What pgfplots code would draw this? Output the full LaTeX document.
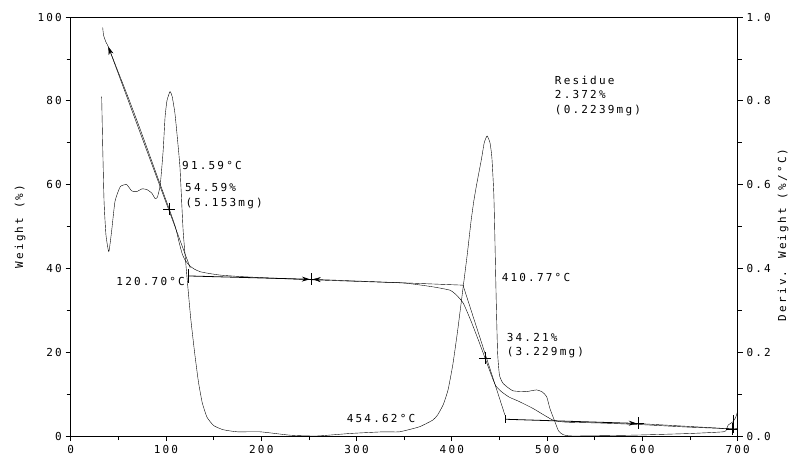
\documentclass[border=0pt]{standalone}
\usepackage{fontspec}
\setmainfont{DejaVu Sans Mono}[LetterSpace=20]
\usepackage{pgfplots}
\pgfplotsset{compat=1.18}
\usetikzlibrary{arrows.meta}
\begin{document}
\fontsize{11pt}{13pt}\selectfont
\begin{tikzpicture}
\useasboundingbox (-70.7pt,-22pt) rectangle (720.3pt,436pt);
\tikzset{
  lbl/.style={inner sep=0pt, anchor=west},
  arr/.style={-{Stealth[length=8pt,width=5pt]}},
  rarr/.style={{Stealth[length=8pt,width=5pt]}-},
}
\pgfplotsset{
  common/.style={scale only axis, width=667pt, height=419pt,
    xmin=0, xmax=700, tick align=outside,
    major tick length=5pt, minor tick length=4pt,
    cycle list={{black,solid,mark=none,line width=0.8pt}},
    axis line style={line width=0.9pt},
    every tick/.style={line width=0.7pt, black},
    /pgf/number format/assume math mode=true},
}
\begin{axis}[common,
  ymin=0, ymax=100,
  xtick={0,100,...,700}, minor x tick num=1,
  ytick={0,20,...,100}, minor y tick num=1,
  xtick pos=bottom, ytick pos=left,
  ylabel={Weight (\%)},
  ylabel style={at={(axis description cs:-0.076,0.5)}, anchor=center},
]
% weight curve
\addplot+[smooth, tension=0.3] coordinates {
(33.6,97.5)(34.5,95.6)(37,94.0)(39.5,92.9)(50,86.8)(60,81.0)(70,75.0)(80,68.8)
(90,62.5)(100,56.3)(104,53.8)(110,49.8)(114,46.0)(117,43.5)(120,42.0)(125,40.6)
(130,39.8)(136,39.2)(145,38.8)(157,38.4)(175,38.1)(200,37.8)(250,37.3)(300,36.9)
(350,36.5)(380,35.6)(398,34.8)(405,33.6)(412,31.7)(420,27.5)(428,22.8)(435,18.5)
(441,14.8)(446,12.0)(452,10.6)(460,9.3)(470,8.3)(485,6.6)(506,3.8)(520,3.3)
(555,3.1)(600,2.7)(650,2.1)(685,1.8)(695,1.7)(700,1.8)};
% construction lines
\addplot+[rarr] coordinates {(39.5,92.9)(125.5,40.1)};
\addplot+[] coordinates {(123.1,39.8)(123.1,36.6)};
\addplot+[arr] coordinates {(123.1,38.2)(251,37.4)};
\addplot+[rarr] coordinates {(254,37.4)(411.7,36.0)};
\addplot+[] coordinates {(411.7,36.0)(455.7,5.0)};
\addplot+[] coordinates {(455.8,5.0)(455.8,3.0)};
\addplot+[arr] coordinates {(455.8,4.0)(594,3.0)};
\addplot+[] coordinates {(594,3.0)(694,1.7)};
\addplot+[] coordinates {(695.3,5.0)(695.3,0.7)};
\addplot[black, only marks, mark=+, mark size=6pt, mark options={line width=0.7pt}] coordinates {
(103.3,54.2)(252.4,37.4)(434.7,18.5)(595.3,3.0)(694.5,1.6)};
% annotations
\node[lbl] at (axis cs:116.8,64.5) {91.59°C};
\node[lbl] at (axis cs:120,59.2) {54.59\%};
\node[lbl] at (axis cs:120.3,55.6) {(5.153mg)};
\node[inner sep=0pt, anchor=east] at (axis cs:120,36.8) {120.70°C};
\node[lbl] at (axis cs:452.2,37.8) {410.77°C};
\node[lbl] at (axis cs:457.5,23.6) {34.21\%};
\node[lbl] at (axis cs:457.5,19.9) {(3.229mg)};
\node[lbl] at (axis cs:289.6,4.2) {454.62°C};
\node[lbl] at (axis cs:508,84.9) {Residue};
\node[lbl] at (axis cs:508,81.4) {2.372\%};
\node[lbl] at (axis cs:508,77.6) {(0.2239mg)};
\end{axis}
\begin{axis}[common,
  ymin=0, ymax=1,
  axis x line=none, axis y line*=right,
  ytick={0,0.2,0.4,0.6,0.8,1.0}, minor y tick num=1,
  yticklabel style={/pgf/number format/.cd, fixed, fixed zerofill, precision=1},
  ylabel={Deriv. Weight (\%/°C)},
  ylabel style={at={(axis description cs:1.068,0.48)}, anchor=center},
]
\addplot+[smooth, tension=0.3] coordinates {
(32.5,0.81)(33.5,0.70)(35,0.56)(37,0.48)(40,0.44)(43,0.49)(46.5,0.56)(52,0.595)
(58.7,0.60)(64,0.585)(69,0.583)(75,0.59)(80,0.588)(85,0.58)(88.5,0.567)(91,0.57)
(94,0.60)(97,0.68)(99,0.76)(101,0.80)(104.2,0.822)(106.5,0.81)(109.4,0.77)
(112,0.71)(114.7,0.64)(118,0.49)(122,0.38)(126,0.28)(130,0.20)(134,0.13)
(138,0.08)(143,0.045)(150,0.025)(160,0.015)(175,0.01)(199,0.01)(230,0.002)(258,0.0)
(293,0.006)(328,0.01)(345,0.01)(366,0.022)(380,0.038)(385,0.05)(391,0.075)
(396,0.11)(401,0.17)(406,0.25)(411,0.34)(416,0.43)(420,0.51)(423,0.56)(426,0.60)
(431,0.66)(434,0.70)(437,0.716)(440,0.70)(442,0.665)(444,0.58)(445,0.49)
(446.5,0.33)(448,0.20)(450,0.145)(454,0.125)(464,0.108)(478,0.106)(489,0.11)
(495,0.105)(499.5,0.094)(503,0.065)(508,0.035)(512,0.012)(517,0.003)(527,0.0)
(590,0.002)(650,0.006)(685,0.01)(688,0.015)(690,0.026)(695,0.034)(698,0.045)(700,0.06)};
\end{axis}
\end{tikzpicture}
\end{document}
